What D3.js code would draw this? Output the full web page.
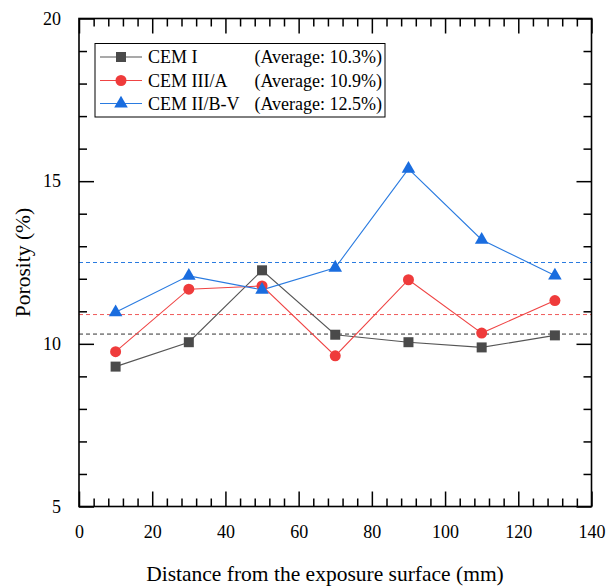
<!DOCTYPE html>
<html>
<head>
<meta charset="utf-8">
<script src="https://cdn.jsdelivr.net/npm/d3@7"></script>
<style>
  html, body { margin: 0; padding: 0; background: #fff; }
  svg { display: block; font-family: "Liberation Serif", "Times New Roman", serif; }
  svg text { font-family: "Liberation Serif", "Times New Roman", serif; }
</style>
</head>
<body>
<svg id="chart" width="606" height="587"></svg>
<script>
// Sampling depths (mm)
const distances = [10, 30, 50, 70, 90, 110, 130];

// Porosity (%) per cement type
const cemI     = [9.30, 10.05, 12.26, 10.28, 10.05, 9.89, 10.26];
const cemIIIA  = [9.76, 11.68, 11.78, 9.63, 11.97, 10.33, 11.33];
const cemIIBV  = [10.97, 12.09, 11.66, 12.34, 15.38, 13.20, 12.10];

// Mean porosity per cement type
const averages = [10.3, 10.9, 12.5];

const seriesNames = ["CEM I", "CEM III/A", "CEM II/B-V"];
const xTicks = [0, 20, 40, 60, 80, 100, 120, 140];
const yTicks = [5, 10, 15, 20];

const series = [
  { name: seriesNames[0], values: cemI,    avg: averages[0], color: "#555555", marker: "#4a4a4a", dash: "#333333", symbol: d3.symbolSquare,   size: 100 },
  { name: seriesNames[1], values: cemIIIA, avg: averages[1], color: "#ef4444", marker: "#ef3b3b", dash: "#f05a5a", symbol: d3.symbolCircle,   size: 95 },
  { name: seriesNames[2], values: cemIIBV, avg: averages[2], color: "#2a7be0", marker: "#1a6ddf", dash: "#2a7be0", symbol: d3.symbolTriangle, size: 80 }
];

const svg = d3.select("#chart");
const plotL = 79, plotR = 591.5, plotT = 18.5, plotB = 506.5;

const x = d3.scaleLinear().domain([0, 140]).range([plotL, plotR]);
const y = d3.scaleLinear().domain([5, 20]).range([plotB, plotT]);

const majorLen = 15, minorLen = 8;
const xMinor = d3.range(0, 141, 4).filter(v => v % 20 !== 0);
const yMinor = d3.range(5, 20.01, 1).filter(v => v % 5 !== 0);

// Axes with inward ticks on all four sides
function tickAxis(g, axis) {
  g.call(axis);
  g.attr("font-family", null).attr("font-size", 18);
  g.select(".domain").remove();
  g.selectAll("line").attr("stroke", "#000").attr("stroke-width", 1.5);
  g.selectAll("text").attr("fill", "#000");
}

svg.append("g").attr("transform", `translate(0,${plotB})`)
  .call(g => tickAxis(g, d3.axisBottom(x).tickValues(xMinor).tickSize(-minorLen).tickFormat("")));
svg.append("g").attr("transform", `translate(0,${plotB})`)
  .call(g => tickAxis(g, d3.axisBottom(x).tickValues(xTicks).tickSize(-majorLen).tickPadding(19).tickFormat(d3.format("d"))));
svg.append("g").attr("transform", `translate(0,${plotT})`)
  .call(g => tickAxis(g, d3.axisTop(x).tickValues(xMinor).tickSize(-minorLen).tickFormat("")));
svg.append("g").attr("transform", `translate(0,${plotT})`)
  .call(g => tickAxis(g, d3.axisTop(x).tickValues(xTicks).tickSize(-majorLen).tickFormat("")));

svg.append("g").attr("transform", `translate(${plotL},0)`)
  .call(g => tickAxis(g, d3.axisLeft(y).tickValues(yMinor).tickSize(-minorLen).tickFormat("")));
svg.append("g").attr("transform", `translate(${plotL},0)`)
  .call(g => tickAxis(g, d3.axisLeft(y).tickValues(yTicks).tickSize(-majorLen).tickPadding(18).tickFormat(d3.format("d"))));
svg.append("g").attr("transform", `translate(${plotR},0)`)
  .call(g => tickAxis(g, d3.axisRight(y).tickValues(yMinor).tickSize(-minorLen).tickFormat("")));
svg.append("g").attr("transform", `translate(${plotR},0)`)
  .call(g => tickAxis(g, d3.axisRight(y).tickValues(yTicks).tickSize(-majorLen).tickFormat("")));

// Average reference lines
svg.append("g").selectAll("line").data(series).join("line")
  .attr("x1", plotL).attr("x2", plotR)
  .attr("y1", d => y(d.avg)).attr("y2", d => y(d.avg))
  .attr("stroke", d => d.dash).attr("stroke-width", 1)
  .attr("stroke-dasharray", "4,3");

// Data lines and markers
const line = d3.line().x((d, i) => x(distances[i])).y(d => y(d));
const plot = svg.append("g");
series.forEach(s => {
  plot.append("path").datum(s.values)
    .attr("d", line).attr("fill", "none")
    .attr("stroke", s.color).attr("stroke-width", 1.1);
});
series.forEach(s => {
  plot.append("g").selectAll("path").data(s.values).join("path")
    .attr("transform", (d, i) => `translate(${x(distances[i])},${y(d)})`)
    .attr("d", d3.symbol(s.symbol, s.size))
    .attr("fill", s.marker);
});

// Frame
svg.append("rect")
  .attr("x", plotL).attr("y", plotT)
  .attr("width", plotR - plotL).attr("height", plotB - plotT)
  .attr("fill", "none").attr("stroke", "#000").attr("stroke-width", 1.6);

// Legend
const legend = svg.append("g");
legend.append("rect")
  .attr("x", 95).attr("y", 43.5).attr("width", 290).attr("height", 73.5)
  .attr("fill", "#fff").attr("stroke", "#000").attr("stroke-width", 1);
const rowY = [57, 80.5, 103.5];
series.forEach((s, i) => {
  const ly = rowY[i];
  legend.append("line").attr("x1", 100).attr("x2", 142).attr("y1", ly).attr("y2", ly)
    .attr("stroke", s.color).attr("stroke-width", 1.1);
  legend.append("path").attr("transform", `translate(121,${ly})`)
    .attr("d", d3.symbol(s.symbol, s.size)).attr("fill", s.marker);
  legend.append("text").attr("x", 148).attr("y", ly + 6)
    .attr("font-size", 18).text(s.name);
  legend.append("text").attr("x", 382).attr("y", ly + 6)
    .attr("text-anchor", "end").attr("font-size", 18)
    .text(`(Average: ${d3.format(".1f")(s.avg)}%)`);
});

// Axis titles
svg.append("text").attr("x", 325).attr("y", 581)
  .attr("text-anchor", "middle").attr("font-size", 21.5)
  .text("Distance from the exposure surface (mm)");
svg.append("text")
  .attr("transform", `translate(30,${(plotT + plotB) / 2}) rotate(-90)`)
  .attr("text-anchor", "middle").attr("font-size", 21.5)
  .text("Porosity (%)");
</script>
</body>
</html>
